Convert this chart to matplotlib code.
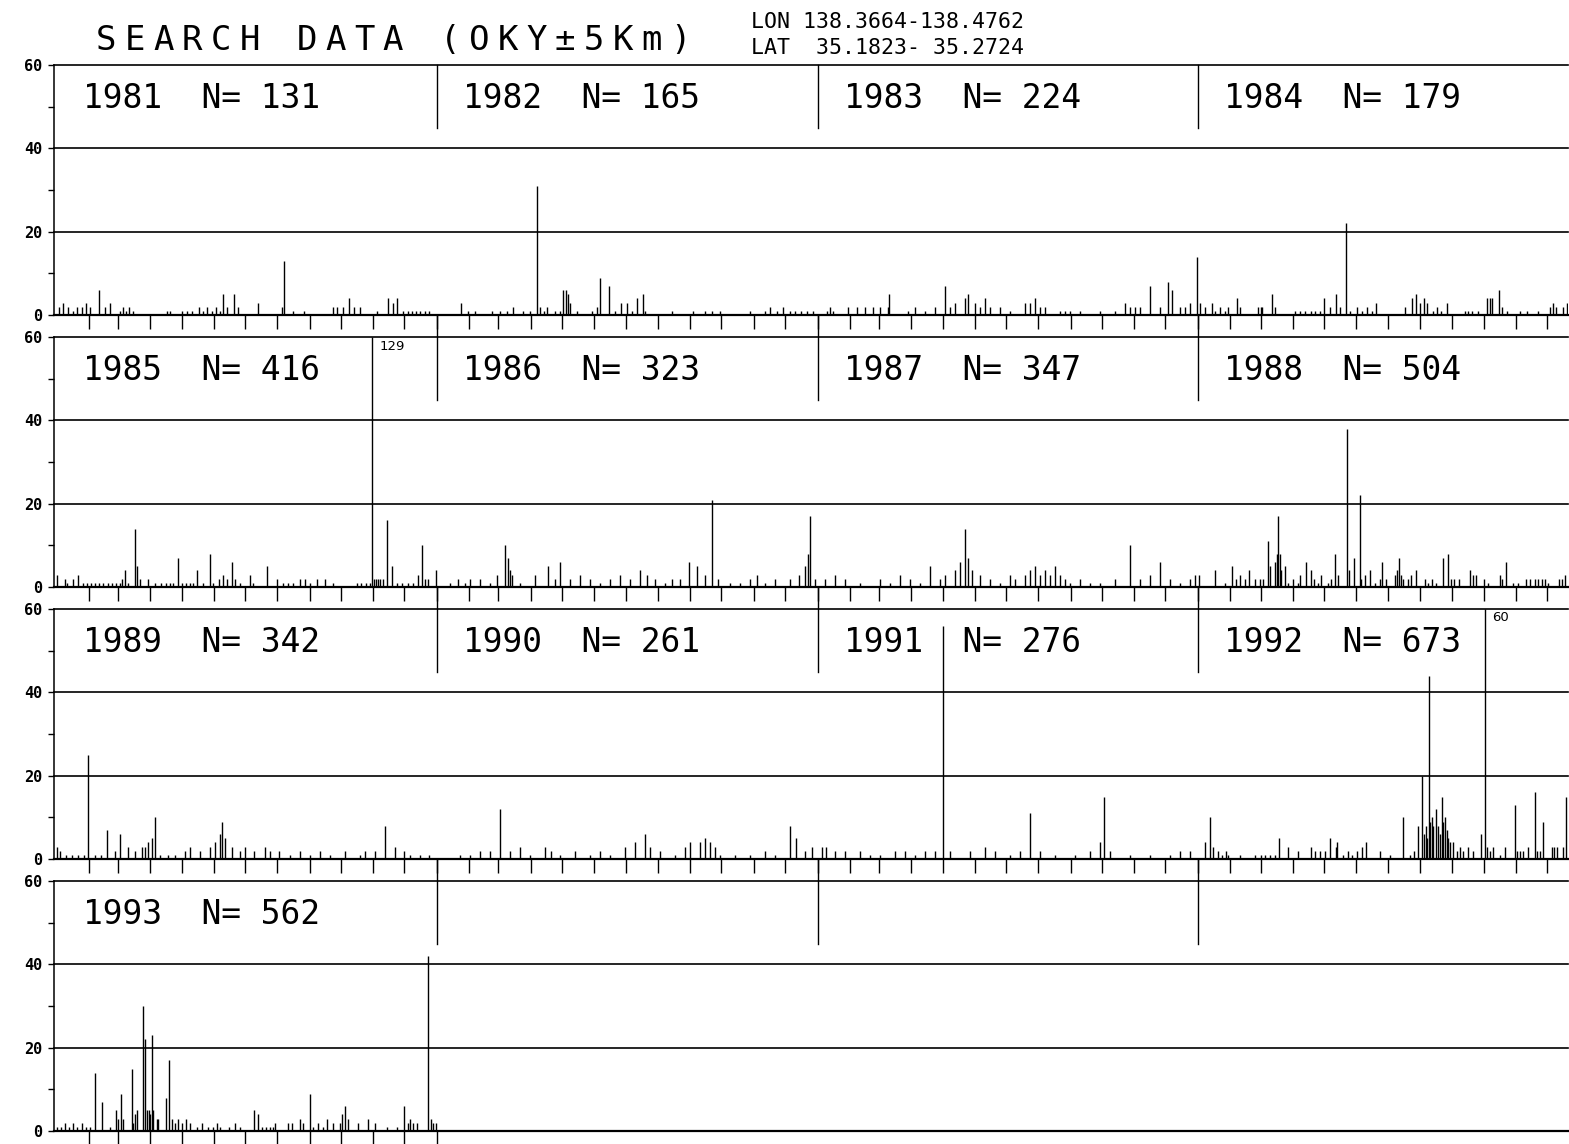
import matplotlib
matplotlib.use("Agg")
import matplotlib.pyplot as plt
import numpy as np

# ---- data: daily event counts (day of year, count) ----
years = [1981, 1982, 1983, 1984, 1985, 1986, 1987, 1988, 1989, 1990, 1991, 1992, 1993]
n_events = [131, 165, 224, 179, 416, 323, 347, 504, 342, 261, 276, 673, 562]

days_1981 = [2, 6, 11, 16, 20, 24, 28, 32, 41, 47, 51, 61, 64, 67, 70, 73, 106, 109, 120, 125, 130,
             137, 141, 144, 149, 153, 157, 160, 164, 170, 174, 193, 216, 218, 227, 238, 265, 269, 275,
             281, 286, 291, 308, 318, 323, 327, 333, 337, 341, 345, 349, 354, 358]
cnt_1981 = [2, 3, 2, 1, 2, 2, 3, 2, 6, 2, 3, 1, 2, 1, 2, 1, 1, 1, 1, 1, 1,
            2, 1, 2, 1, 2, 1, 5, 2, 5, 2, 3, 2, 13, 1, 1, 2, 2, 2,
            4, 2, 2, 1, 4, 3, 4, 1, 1, 1, 1, 1, 1, 1]

days_1982 = [23, 30, 36, 53, 60, 67, 73, 83, 89, 96, 99, 103, 106, 113, 118, 121, 124, 126, 128, 134,
             149, 154, 156, 165, 171, 177, 182, 187, 192, 198, 200, 226, 246, 257, 264, 272, 300, 315,
             320, 326, 332, 339, 344, 349, 355, 361]
cnt_1982 = [3, 1, 1, 1, 1, 1, 2, 1, 1, 31, 2, 1, 2, 1, 1, 6, 6, 5, 3, 1,
            1, 2, 9, 7, 1, 3, 3, 1, 4, 5, 1, 1, 1, 1, 1, 1, 1, 1,
            2, 1, 2, 1, 1, 1, 1, 1]

days_1983 = [9, 12, 15, 29, 38, 46, 53, 60, 68, 69, 87, 94, 103, 113, 122, 127, 132, 142, 144, 151,
             156, 161, 166, 175, 185, 199, 204, 209, 214, 218, 233, 238, 242, 252, 271, 286, 295, 300,
             305, 310, 319, 329, 336, 340, 348, 353, 358, 364]
cnt_1983 = [1, 2, 1, 2, 2, 2, 2, 2, 2, 5, 1, 2, 1, 2, 7, 2, 3, 4, 5, 3,
            2, 4, 2, 2, 1, 3, 3, 4, 2, 2, 1, 1, 1, 1, 1, 1, 3, 2,
            2, 2, 7, 2, 8, 6, 2, 2, 3, 14]

days_1984 = [2, 7, 13, 16, 21, 26, 29, 37, 40, 58, 60, 61, 71, 74, 93, 98, 103, 108, 112, 117, 121,
             127, 132, 136, 142, 146, 153, 157, 162, 167, 171, 199, 205, 209, 213, 217, 220, 226, 229,
             233, 239, 256, 259, 263, 269, 277, 280, 282, 289, 292, 297, 309, 316, 326, 338, 341, 344,
             350, 354]
cnt_1984 = [3, 2, 3, 1, 2, 1, 2, 4, 2, 2, 2, 2, 5, 2, 1, 1, 1, 1, 1, 1, 4,
            2, 5, 2, 22, 1, 2, 1, 2, 1, 3, 2, 4, 5, 3, 4, 3, 1, 2,
            1, 3, 1, 1, 1, 1, 4, 4, 4, 6, 2, 1, 1, 1, 1, 2, 3, 2,
            2, 3]

days_1985 = [0, 8, 10, 16, 21, 25, 29, 33, 37, 41, 45, 49, 53, 57, 61, 63, 66, 69, 75, 77, 80, 88,
             95, 100, 105, 109, 112, 117, 120, 124, 128, 131, 135, 141, 147, 150, 156, 160, 164, 168,
             171, 176, 186, 189, 202, 212, 217, 222, 227, 234, 239, 243, 250, 258, 265, 288, 292, 297,
             301, 303, 305, 307, 309, 311, 313, 317, 322, 327, 332, 337, 342, 347, 351, 354, 357, 364]
cnt_1985 = [3, 2, 1, 2, 3, 1, 1, 1, 1, 1, 1, 1, 1, 1, 1, 2, 4, 1, 14, 5, 2, 2,
            1, 1, 1, 1, 1, 7, 1, 1, 1, 1, 4, 1, 8, 1, 2, 3, 2, 6,
            2, 1, 3, 1, 5, 2, 1, 1, 1, 2, 2, 1, 2, 2, 1, 1, 1, 1,
            1, 129, 2, 2, 2, 2, 2, 16, 5, 1, 1, 1, 1, 3, 10, 2, 2, 4]

days_1986 = [12, 20, 27, 32, 41, 51, 58, 65, 68, 70, 72, 80, 94, 107, 113, 118, 128, 137, 147, 156,
             166, 176, 185, 195, 202, 209, 219, 226, 233, 242, 250, 257, 264, 270, 281, 291, 300, 307,
             315, 324, 339, 347, 353, 356, 358, 363]
cnt_1986 = [1, 2, 1, 2, 2, 1, 3, 10, 7, 4, 3, 1, 3, 5, 2, 6, 2, 3, 2, 1,
            2, 3, 2, 4, 3, 2, 1, 2, 2, 6, 5, 3, 21, 2, 1, 1, 2, 3,
            1, 2, 2, 3, 5, 8, 17, 2]

days_1987 = [7, 17, 26, 41, 60, 70, 79, 89, 98, 108, 118, 122, 132, 137, 142, 144, 148, 156, 166, 175,
             185, 190, 199, 204, 209, 214, 218, 223, 228, 233, 238, 242, 252, 262, 271, 286, 300, 310,
             319, 329, 338, 348, 358, 362]
cnt_1987 = [2, 3, 2, 1, 2, 1, 3, 2, 1, 5, 2, 3, 4, 6, 14, 7, 4, 3, 2, 1,
            3, 2, 3, 4, 5, 3, 4, 3, 5, 3, 2, 1, 2, 1, 1, 2, 10, 2,
            3, 6, 2, 1, 2, 3]

days_1988 = [1, 16, 26, 33, 36, 40, 45, 49, 55, 59, 62, 67, 69, 74, 76, 77, 79, 80, 83, 86,
             91, 96, 98, 104, 108, 111, 115, 118, 125, 128, 131, 134, 143, 145, 150, 155, 156, 160, 165, 170,
             175, 177, 180, 189, 191, 193, 195, 197, 202, 204, 209, 218, 221, 225, 228, 235, 240, 243, 246, 250,
             261, 264, 267, 274, 278, 290, 292, 296, 302, 307, 315, 319, 323, 326, 330, 333, 336, 346, 349, 352]
cnt_1988 = [3, 4, 1, 5, 2, 3, 2, 4, 2, 2, 2, 11, 5, 6, 8, 17, 8, 4, 5, 1,
            2, 1, 3, 6, 4, 2, 1, 3, 1, 2, 8, 3, 38, 4, 7, 22, 2, 3, 4, 1,
            2, 6, 2, 3, 4, 7, 3, 2, 2, 3, 4, 2, 1, 2, 1, 7, 8, 2, 2, 2,
            4, 3, 3, 2, 1, 3, 2, 6, 1, 1, 2, 2, 2, 2, 2, 2, 1, 2, 2, 3]

days_1989 = [0, 3, 9, 15, 21, 26, 30, 37, 43, 48, 56, 61, 69, 75, 82, 85, 88, 92, 95, 99,
             107, 114, 123, 128, 138, 147, 152, 157, 159, 162, 168, 176, 181, 190, 200, 205, 214, 224, 234, 243,
             253, 263, 277, 291, 296, 306, 315, 325, 334, 339, 349, 358]
cnt_1989 = [3, 2, 1, 1, 1, 1, 25, 1, 1, 7, 2, 6, 3, 2, 3, 3, 4, 5, 10, 1,
            1, 1, 2, 3, 2, 3, 4, 6, 9, 5, 3, 2, 3, 2, 3, 2, 2, 1, 2, 1,
            2, 1, 2, 1, 2, 2, 8, 3, 2, 1, 1, 1]

days_1990 = [22, 32, 41, 51, 60, 70, 80, 89, 104, 109, 118, 132, 147, 156, 166, 180, 190, 200, 204, 214,
             228, 238, 243, 252, 257, 262, 267, 272, 286, 300, 315, 324, 339, 345, 353, 360]
cnt_1990 = [1, 1, 2, 2, 12, 2, 3, 1, 3, 2, 1, 2, 1, 2, 1, 3, 4, 6, 3, 2,
            1, 3, 4, 4, 5, 4, 3, 1, 1, 1, 2, 1, 8, 5, 2, 3]

days_1991 = [4, 8, 17, 26, 41, 50, 60, 74, 84, 94, 103, 113, 120, 127, 146, 161, 170, 185, 194, 204,
             214, 228, 247, 262, 271, 275, 281, 300, 319, 338, 348, 358]
cnt_1991 = [3, 3, 2, 2, 2, 1, 1, 2, 2, 1, 2, 2, 56, 2, 2, 3, 2, 1, 2, 11,
            2, 1, 1, 2, 4, 15, 2, 1, 1, 1, 2, 2]

days_1992 = [7, 11, 14, 19, 23, 27, 29, 40, 55, 60, 64, 69, 74, 78, 86, 96, 108, 112, 117, 122,
             127, 132, 133, 139, 144, 148, 153, 157, 161, 175, 184, 197, 203, 207, 211, 215, 217, 219, 220, 222,
             223, 225, 226, 228, 230, 232, 234, 235, 237, 239, 240, 242, 245, 249, 251, 254, 259, 264, 272, 275,
             277, 280, 283, 290, 295, 304, 306, 309, 312, 317, 323, 325, 328, 331, 340, 342, 345, 350, 353]
cnt_1992 = [4, 10, 3, 2, 1, 2, 1, 1, 1, 1, 1, 1, 1, 5, 3, 2, 3, 2, 2, 2,
            5, 3, 4, 1, 2, 1, 2, 3, 4, 2, 1, 10, 1, 2, 8, 20, 6, 8, 5, 44,
            9, 10, 8, 12, 8, 6, 15, 9, 10, 7, 5, 4, 4, 2, 3, 2, 3, 2, 6, 60,
            3, 2, 3, 1, 3, 13, 2, 2, 2, 3, 16, 2, 2, 9, 3, 3, 3, 3, 15]

days_1993 = [0, 4, 8, 12, 16, 20, 24, 28, 32, 37, 44, 51, 57, 59, 62, 64, 72, 73, 75, 77,
             83, 85, 87, 89, 90, 92, 93, 96, 97, 105, 108, 111, 114, 117, 120, 124, 128, 135, 140, 145,
             150, 154, 157, 166, 171, 176, 190, 193, 197, 201, 205, 208, 210, 222, 226, 234, 237, 243, 246, 251,
             256, 260, 265, 272, 274, 277, 280, 289, 299, 306, 317, 327, 334, 337, 339, 342, 346, 357, 359, 361, 364]
cnt_1993 = [1, 1, 2, 1, 2, 1, 2, 1, 1, 14, 7, 1, 5, 3, 9, 3, 15, 2, 4, 5,
            30, 22, 5, 5, 4, 23, 5, 3, 3, 8, 17, 3, 2, 3, 2, 3, 2, 1, 2, 1,
            1, 2, 1, 1, 2, 1, 5, 4, 1, 1, 1, 1, 2, 2, 2, 3, 2, 9, 1, 2,
            1, 3, 2, 2, 4, 6, 3, 2, 3, 2, 1, 1, 6, 2, 3, 2, 2, 42, 3, 2, 2]

day_lists = [days_1981, days_1982, days_1983, days_1984, days_1985, days_1986, days_1987,
             days_1988, days_1989, days_1990, days_1991, days_1992, days_1993]
cnt_lists = [cnt_1981, cnt_1982, cnt_1983, cnt_1984, cnt_1985, cnt_1986, cnt_1987,
             cnt_1988, cnt_1989, cnt_1990, cnt_1991, cnt_1992, cnt_1993]

month_starts = [31, 59, 90, 120, 151, 181, 212, 243, 273, 304, 334]

title = "SEARCH DATA (OKY\u00b15Km)"
lon_text = "LON 138.3664-138.4762"
lat_text = "LAT  35.1823- 35.2724"

# ---- layout (pixels) ----
W, H = 1569, 1144
PX_DAY = 1.0418          # pixels per day
X0 = 56.5                # pixel of day 0 of the first column
AX_L, AX_R = 54, 1568
ROW_TOP = [65, 337, 609, 881]
ROW_H = 250
GAP = 22
YR = 365.25
YMAX = 60
u = YMAX / ROW_H         # data units per pixel
MONO = "DejaVu Sans Mono"

fig = plt.figure(figsize=(W / 100, H / 100), dpi=100)
fig.patch.set_facecolor("white")

xlo = (AX_L - X0) / PX_DAY
xhi = (AX_R - X0) / PX_DAY

for r in range(4):
    ax = fig.add_axes([AX_L / W, 1 - (ROW_TOP[r] + ROW_H) / H, (AX_R - AX_L) / W, ROW_H / H])
    ax.set_xlim(xlo, xhi)
    ax.set_ylim(0, YMAX)
    ax.patch.set_alpha(0)
    for s in ("top", "right", "bottom"):
        ax.spines[s].set_visible(False)
    ax.spines["left"].set_linewidth(1.1)

    ax.set_yticks([0, 20, 40, 60])
    ax.set_yticklabels(["0", "20", "40", "60"], family=MONO, weight="bold", fontsize=11)
    ax.set_yticks([10, 30, 50], minor=True)
    ax.tick_params(axis="y", which="both", direction="out", length=4.5, width=1.0, pad=4)

    for v in (20, 40, 60):
        ax.axhline(v, color="black", lw=1.2, clip_on=False)
    ax.axhline(0, color="black", lw=1.6, clip_on=False)

    xt = []
    for c in range(4):
        yi = r * 4 + c
        if yi >= len(years):
            continue
        year = years[yi]
        leap = 1 if year % 4 == 0 else 0
        xt += [c * YR + m + (leap if m > 31 else 0) for m in month_starts]
        xt.append((c + 1) * YR)

        d = c * YR + np.array(day_lists[yi], dtype=float)
        n = np.array(cnt_lists[yi], dtype=float)
        ax.vlines(d, 0, np.minimum(n, YMAX), color="black", lw=1.0)
        for dd, nn in zip(d, n):
            if nn >= YMAX:
                ax.text(dd + 7, YMAX - 0.6, str(int(nn)), fontsize=9.5, ha="left", va="top",
                        family="DejaVu Sans")

        ax.text(c * YR + 25.0, 49.7, f"{year}  N= {n_events[yi]}", family=MONO,
                fontsize=23.7, ha="left", va="baseline")

    xt = [x for x in xt if xlo < x < xhi]
    ax.set_xticks(xt)
    ax.set_xticklabels([])
    ax.tick_params(axis="x", direction="out", length=10, width=1.0)

    # year dividers in the label band, joined to the row above
    top = YMAX + (GAP * u if r > 0 else 0)
    for c in (1, 2, 3):
        ax.plot([c * YR, c * YR], [45, top], color="black", lw=1.0, clip_on=False)

# ---- header text ----
pitch = 28.7
for i, ch in enumerate(title):
    if ch != " ":
        fig.text((106 + i * pitch) / W, 1 - 50 / H, ch, family=MONO, fontsize=24.5,
                 ha="center", va="baseline")
fig.text(751 / W, 1 - 28 / H, lon_text, family=MONO, fontsize=15.5, ha="left", va="baseline")
fig.text(751 / W, 1 - 54 / H, lat_text, family=MONO, fontsize=15.5, ha="left", va="baseline")

fig.savefig("out.png", dpi=100, facecolor="white")
